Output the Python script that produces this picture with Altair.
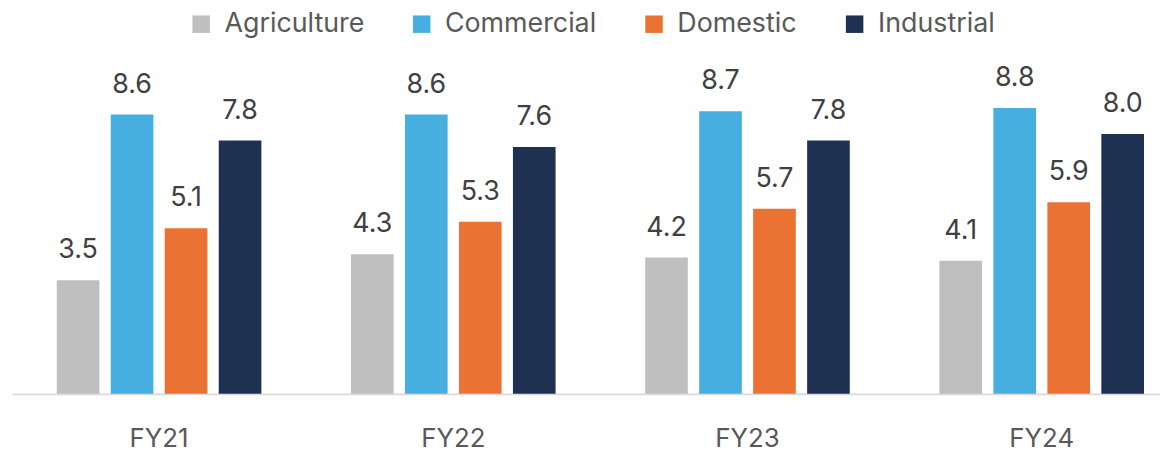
import altair as alt
import pandas as pd

years = ["FY21", "FY22", "FY23", "FY24"]
series = ["Agriculture", "Commercial", "Domestic", "Industrial"]
agriculture = [3.5, 4.3, 4.2, 4.1]
commercial = [8.6, 8.6, 8.7, 8.8]
domestic = [5.1, 5.3, 5.7, 5.9]
industrial = [7.8, 7.6, 7.8, 8.0]
colors = ["#BFBFBF", "#47AFE0", "#EA7233", "#1F3153"]

rows = []
for s, vals in zip(series, [agriculture, commercial, domestic, industrial]):
    for y, v in zip(years, vals):
        rows.append({"year": y, "series": s, "value": v, "label": f"{v:.1f}"})
df = pd.DataFrame(rows)

FONT = "Inter"

base = alt.Chart(df).encode(
    x=alt.X("year:N", sort=years, title=None,
            scale=alt.Scale(range=[2, 1187], paddingInner=0, paddingOuter=0),
            axis=alt.Axis(labelAngle=0, ticks=False, labelFontSize=26, labelFont=FONT,
                          labelColor="#595959", labelPadding=32, domainColor="#D9D9D9",
                          domainWidth=2, grid=False)),
    xOffset=alt.XOffset("series:N", sort=series,
                        scale=alt.Scale(paddingInner=0.21, paddingOuter=0.83)),
)

bars = base.mark_bar().encode(
    y=alt.Y("value:Q", scale=alt.Scale(domain=[0, 10]), axis=None),
    color=alt.Color("series:N", sort=series,
                    scale=alt.Scale(domain=series, range=colors),
                    legend=alt.Legend(title=None, orient="none", direction="horizontal",
                                      legendX=179, legendY=-59, symbolType="square",
                                      symbolSize=310, symbolStrokeWidth=0,
                                      labelFontSize=27, labelFont=FONT, labelColor="#595959",
                                      labelOffset=10, columnPadding=44, labelLimit=300)),
)

labels = base.mark_text(baseline="alphabetic", dy=-22, fontSize=27, font=FONT, color="#404040").encode(
    y=alt.Y("value:Q"),
    text="label:N",
)

chart = (bars + labels).properties(
    width=1156, height=327,
    padding={"left": 2, "top": 60, "right": 2, "bottom": 60},
    autosize=alt.AutoSizeParams(type="none"),
).configure(font=FONT).configure_view(stroke=None)

chart.save("out.html", embed_options={"renderer": "svg", "actions": False})
